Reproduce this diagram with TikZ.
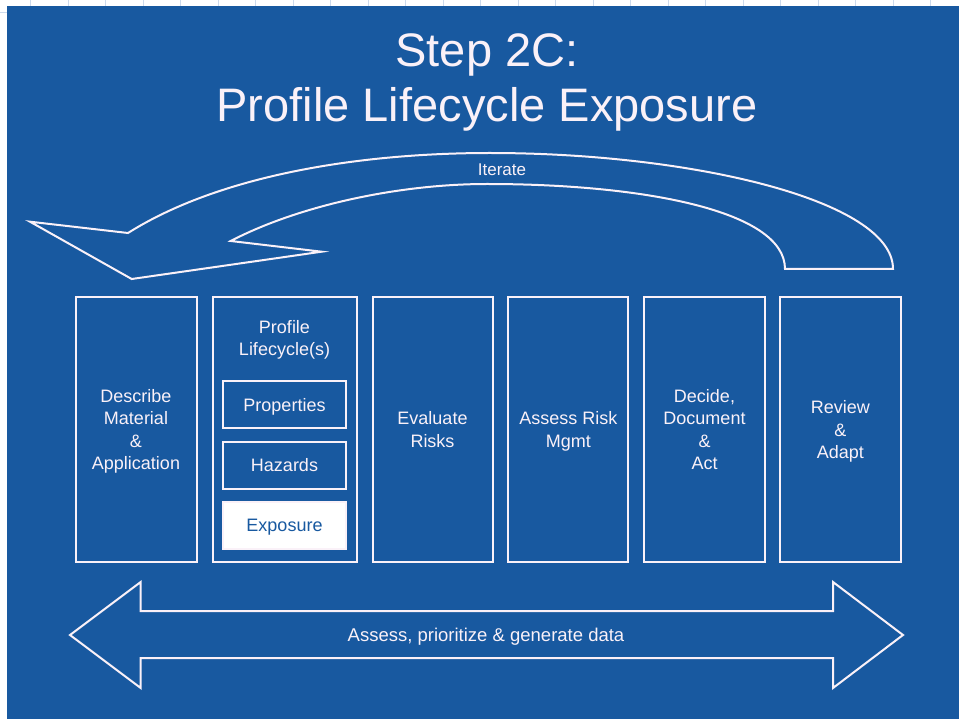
\documentclass[tikz,border=0pt]{standalone}
\usepackage{fontspec}
\setmainfont{Liberation Sans}
\usetikzlibrary{positioning}
\definecolor{slideblue}{RGB}{24,89,160}
\definecolor{chalk}{RGB}{250,241,248}
\definecolor{gridblue}{RGB}{205,218,236}
\def\boxmid{429.5}

\begin{document}
\begin{tikzpicture}[x=1pt, y=-1pt, line width=2pt]
        \tikzstyle{outline}=[draw=chalk, line width=2pt];
        \tikzstyle{stage}=[draw=chalk, text=chalk, minimum height=264pt, inner sep=0pt, text depth=0pt, align=center, font=\fontsize{18}{22.3}\selectfont];
        \tikzstyle{substage}=[stage, minimum width=123pt, minimum height=47pt];
        \tikzstyle{label}=[text=chalk, align=center, inner sep=0pt];

        % page and slide
        \fill[white] (0,0) rectangle (959,719);
        \useasboundingbox (0,0) rectangle (959,719);
        \foreach \gx in {30.6,68.1,...,959}
            \draw[gridblue, line width=1pt] (\gx,0) -- (\gx,7);
        \draw[gridblue, line width=1pt] (0,13) -- (7,13);
        \fill[slideblue] (7,6) rectangle (959,719);

        % title
        \node[label, font=\fontsize{47}{55}\selectfont] (title) at (487,82) {Step 2C:\\Profile Lifecycle Exposure};

        % iterate arrow
        \draw[outline] (30,221.7) -- (128,233)
            .. controls (220,175) and (360,153) .. (490,153)
            .. controls (690,153) and (893,200) .. (893,269)
            -- (785,269)
            .. controls (785,210) and (640,184) .. (487,184)
            .. controls (400,184) and (300,205) .. (230.7,241)
            -- (321.7,251.7) -- (131.7,279) -- cycle;
        \node[label, font=\fontsize{17}{20}\selectfont] (iter) at (502,170) {Iterate};

        % process steps
        \foreach \name/\x/\w/\txt in {desc/136/121/{Describe\\Material\\\&\\Application},
                                      eval/432.5/120/{Evaluate\\Risks},
                                      mgmt/568.3/120/{Assess Risk\\Mgmt},
                                      decide/704.5/121/{Decide,\\Document\\\&\\Act},
                                      review/840.3/121/{Review\\\&\\Adapt}}
            \node[stage, minimum width=\w pt] (\name) at (\x,\boxmid) {\txt};

        % profile step with its parts
        \node[stage, minimum width=144pt] (prof) at (284.5,\boxmid) {};
        \node[label, font=\fontsize{18}{22.3}\selectfont] (proftitle) at (284.5,340) {Profile\\Lifecycle(s)};
        \node[substage] (prop) at (284.5,404.5) {Properties};
        \node[substage, below=11.5pt of prop] (haz) {Hazards};
        \node[substage, below=11.5pt of haz, fill=white, text=slideblue] (expo) {Exposure};

        % data arrow
        \draw[outline] (70,635) -- (140.7,582) -- (140.7,611) -- (833,611) -- (833,582)
            -- (903,635) -- (833,688) -- (833,658) -- (140.7,658) -- (140.7,688) -- cycle;
        \node[label, font=\fontsize{18.5}{22}\selectfont] (assess) at (486,637) {Assess, prioritize \& generate data};
\end{tikzpicture}
\end{document}
